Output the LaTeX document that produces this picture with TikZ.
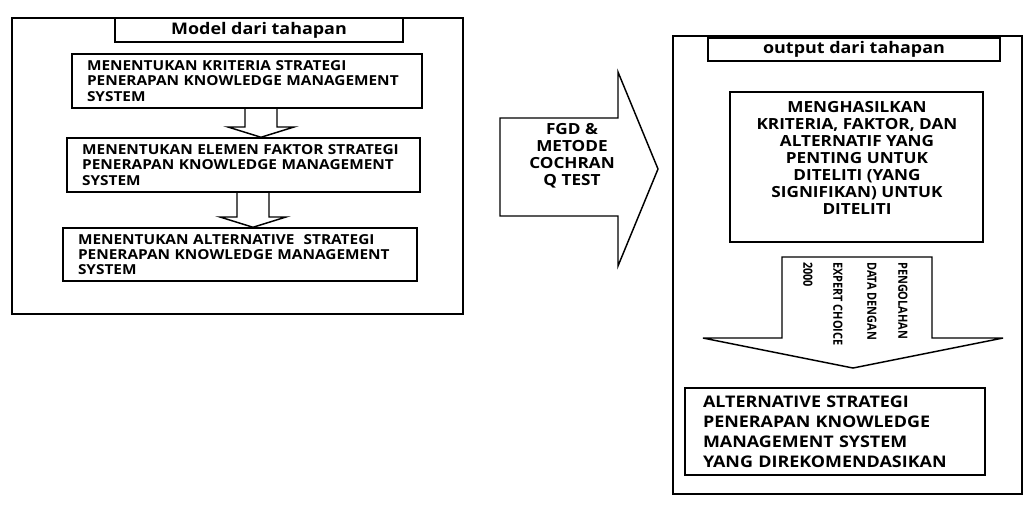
\documentclass[tikz,border=0pt]{standalone}
\usepackage{fontspec}
\usepackage{graphicx}
\setmainfont{Open Sans}[FakeStretch=1.12]
\usetikzlibrary{calc}

\tikzset{
  garis/.style={draw, line width=1.1pt},
  kotak/.style={garis, inner sep=0pt, align=left, font=\bfseries\fontsize{10.3}{11.4}\selectfont},
  judul/.style={garis, inner sep=0pt, font=\bfseries\fontsize{12}{13}\selectfont},
  tegak/.style={rotate=-90, xscale=0.77, anchor=west, inner sep=0pt, font=\bfseries\fontsize{9.5}{9.5}\selectfont},
}

\begin{document}
\begin{tikzpicture}[x=0.75pt,y=0.75pt,yscale=-1,xscale=1]
\useasboundingbox (0,0) rectangle (1025,504);

% bagian kiri
\draw[garis] (12,18) rectangle (463,314);

\node[judul, minimum width=216pt, minimum height=18pt] (jkiri) at (259,30) {Model dari tahapan};

\node[kotak, minimum width=262.5pt, minimum height=40.5pt, text width=240pt, inner xsep=11.25pt] (k1) at (247,81) {MENENTUKAN KRITERIA STRATEGI\\PENERAPAN KNOWLEDGE MANAGEMENT\\SYSTEM};

\node[kotak, minimum width=264.75pt, minimum height=40.5pt, text width=242pt, inner xsep=11.25pt] (k2) at (243.5,165) {MENENTUKAN ELEMEN FAKTOR STRATEGI\\PENERAPAN KNOWLEDGE MANAGEMENT\\SYSTEM};

\node[kotak, minimum width=265.5pt, minimum height=39.75pt, text width=243pt, inner xsep=11.25pt] (k3) at (240,254.5) {MENENTUKAN ALTERNATIVE\ \ STRATEGI\\PENERAPAN KNOWLEDGE MANAGEMENT\\SYSTEM};

\draw[garis] (245,0 |- k1.south) -- (245,127) -- (228,127) -- (261,0 |- k2.north) -- (294,127) -- (277,127) -- (277,0 |- k1.south);
\draw[garis] (237,0 |- k2.south) -- (237,217) -- (220,217) -- (253,0 |- k3.north) -- (286,217) -- (269,217) -- (269,0 |- k2.south);

% panah tengah
\draw[garis] (500,118) -- (618,118) -- (618,72) -- (658,169) -- (618,266) -- (618,216) -- (500,216) -- cycle;
\node[inner sep=0pt, align=center, font=\bfseries\fontsize{11.5}{12.75}\selectfont] (fgd) at (572,156) {FGD \&\\METODE\\COCHRAN\\Q TEST};

% bagian kanan
\draw[garis] (673,36) rectangle (1022,494);

\node[judul, minimum width=219pt, minimum height=17.25pt] (jkanan) at (854,49.5) {output dari tahapan};

\node[garis, minimum width=189.75pt, minimum height=112.5pt] (k5) at (856.5,167) {};
\node[inner sep=0pt, align=center, font=\bfseries\fontsize{11.5}{12.75}\selectfont] (t5) at (857,158) {MENGHASILKAN\\KRITERIA, FAKTOR, DAN\\ALTERNATIF YANG\\PENTING UNTUK\\DITELITI (YANG\\SIGNIFIKAN) UNTUK\\DITELITI};

\draw[garis] (782,257) -- (932,257) -- (932,338) -- (1003,338) -- (853,368) -- (703,338) -- (782,338) -- cycle;
\node[tegak] (v1) at (903,262) {PENGOLAHAN};
\node[tegak] (v2) at (872,262) {DATA DENGAN};
\node[tegak] (v3) at (838,262) {EXPERT CHOICE};
\node[tegak] (v4) at (808,262) {2000};

\node[kotak, minimum width=225pt, minimum height=65.25pt, text width=198pt, inner xsep=13.5pt, font=\bfseries\fontsize{12}{15}\selectfont] (k6) at (835,431.5) {ALTERNATIVE STRATEGI\\PENERAPAN KNOWLEDGE\\MANAGEMENT SYSTEM\\YANG DIREKOMENDASIKAN};

\end{tikzpicture}
\end{document}
